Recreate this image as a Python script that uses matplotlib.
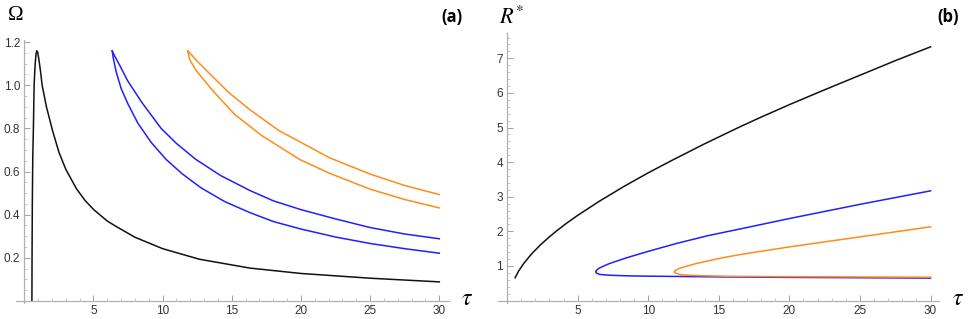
import numpy as np
import matplotlib.pyplot as plt
from matplotlib.ticker import MultipleLocator, FixedLocator

plt.rcParams["mathtext.fontset"] = "stix"

# ---- panel (a): Omega vs tau ----
tau_k = [0.55, 0.56, 0.58, 0.61, 0.66, 0.71, 0.76, 0.8, 0.85, 0.9, 0.96, 1.03, 1.12, 1.2, 1.29,
         1.6, 2.04, 2.5, 3.0, 3.77, 4.4, 5.02, 6.0, 6.64, 8.0, 10, 12.66, 16.3, 20, 25, 30]
om_k = [0.0, 0.2, 0.45, 0.656, 0.81, 1.0, 1.07, 1.11, 1.145, 1.16, 1.155, 1.13, 1.09, 1.05, 1.0,
        0.9, 0.79, 0.69, 0.61, 0.52, 0.465, 0.423, 0.37, 0.345, 0.295, 0.242, 0.193, 0.152,
        0.127, 0.105, 0.088]

tau_b_lo = [6.35, 6.45, 6.65, 7.0, 7.48, 8.2, 9.17, 10.25, 11.4, 12.78, 14.5, 16.28, 18, 20,
            22.5, 25, 27.5, 30]
om_b_lo = [1.16, 1.12, 1.06, 0.985, 0.915, 0.825, 0.735, 0.656, 0.59, 0.524, 0.46, 0.41, 0.368,
           0.333, 0.296, 0.266, 0.242, 0.221]
tau_b_up = [6.35, 6.5, 6.9, 7.48, 8.5, 9.89, 11, 12.4, 14.2, 16.3, 18, 20, 22.5, 25, 27.5, 30]
om_b_up = [1.16, 1.14, 1.092, 1.02, 0.92, 0.8, 0.73, 0.656, 0.581, 0.512, 0.464, 0.423, 0.38,
           0.34, 0.31, 0.288]

tau_o_up = [11.82, 12.1, 12.6, 13.3, 14.8, 16.3, 18.4, 20, 22.05, 25, 27.5, 30]
om_o_up = [1.16, 1.14, 1.105, 1.06, 0.965, 0.887, 0.79, 0.735, 0.664, 0.588, 0.535, 0.493]
tau_o_lo = [11.82, 11.95, 12.4, 13.62, 15.2, 17.2, 19.9, 22.05, 25, 27.5, 30]
om_o_lo = [1.16, 1.12, 1.07, 0.975, 0.865, 0.765, 0.656, 0.592, 0.518, 0.47, 0.431]

# ---- panel (b): R* vs tau ----
tau_rk = [0.57, 0.8, 1.16, 1.7, 2.34, 3.0, 3.5, 4.2, 5, 6.5, 8.25, 10, 11.68, 14, 16.5, 18, 20,
          22.5, 25, 27.5, 30]
r_k = [0.66, 0.84, 1.06, 1.33, 1.6, 1.84, 2.01, 2.23, 2.46, 2.86, 3.29, 3.69, 4.05, 4.53, 5.02,
       5.3, 5.66, 6.09, 6.51, 6.93, 7.33]

tau_rb_up = [6.29, 6.33, 6.5, 6.8, 7.2, 7.54, 8.5, 9.9, 12, 14.28, 16.52, 20, 25, 30]
r_b_up = [0.83, 0.87, 0.93, 0.99, 1.06, 1.11, 1.24, 1.41, 1.65, 1.88, 2.07, 2.37, 2.78, 3.17]
tau_rb_lo = [6.29, 6.35, 6.6, 7.0, 7.5, 8.5, 10, 15, 20, 25, 30]
r_b_lo = [0.83, 0.79, 0.755, 0.74, 0.728, 0.715, 0.705, 0.685, 0.67, 0.66, 0.65]

tau_ro_up = [11.87, 11.92, 12.2, 12.7, 13.4, 14.28, 15.3, 16.52, 20, 25, 30]
r_o_up = [0.83, 0.87, 0.93, 0.99, 1.07, 1.15, 1.24, 1.33, 1.55, 1.84, 2.13]
tau_ro_lo = [11.87, 11.95, 12.3, 13, 14, 16, 20, 25, 30]
r_o_lo = [0.83, 0.79, 0.75, 0.73, 0.715, 0.7, 0.69, 0.682, 0.675]

W, H = 969, 319
fig = plt.figure(figsize=(W / 100, H / 100), dpi=100)
ax1 = fig.add_axes([16 / W, 16 / H, 433 / W, 263 / H])
ax2 = fig.add_axes([498 / W, 16 / H, 441 / W, 270 / H])

blue = "#2020ff"
orange = "#ff8c1a"
lw = 1.1

ax1.plot(tau_k, om_k, color="#111111", lw=lw)
ax1.plot(tau_b_lo, om_b_lo, color=blue, lw=lw)
ax1.plot(tau_b_up, om_b_up, color=blue, lw=lw)
ax1.plot(tau_o_lo, om_o_lo, color=orange, lw=lw)
ax1.plot(tau_o_up, om_o_up, color=orange, lw=lw)
ax1.set_xlim(-0.6, 30.7)
ax1.set_ylim(-0.01, 1.21)
ax1.xaxis.set_major_locator(FixedLocator([5, 10, 15, 20, 25, 30]))
ax1.xaxis.set_minor_locator(MultipleLocator(1))
ax1.yaxis.set_major_locator(FixedLocator([0.2, 0.4, 0.6, 0.8, 1.0, 1.2]))
ax1.yaxis.set_minor_locator(MultipleLocator(0.05))

ax2.plot(tau_rk, r_k, color="#111111", lw=lw)
ax2.plot(tau_rb_lo, r_b_lo, color=blue, lw=lw)
ax2.plot(tau_rb_up, r_b_up, color=blue, lw=lw)
ax2.plot(tau_ro_lo, r_o_lo, color=orange, lw=lw)
ax2.plot(tau_ro_up, r_o_up, color=orange, lw=lw)
ax2.set_xlim(-0.64, 30.6)
ax2.set_ylim(-0.07, 7.73)
ax2.xaxis.set_major_locator(FixedLocator([5, 10, 15, 20, 25, 30]))
ax2.xaxis.set_minor_locator(MultipleLocator(1))
ax2.yaxis.set_major_locator(FixedLocator([1, 2, 3, 4, 5, 6, 7]))
ax2.yaxis.set_minor_locator(MultipleLocator(0.2))

for ax in (ax1, ax2):
    ax.patch.set_alpha(0)
    for s in ("top", "right"):
        ax.spines[s].set_visible(False)
    ax.spines["left"].set_position(("data", 0))
    ax.spines["bottom"].set_position(("data", 0))
    for s in ("left", "bottom"):
        ax.spines[s].set_color("#b0b0b0")
        ax.spines[s].set_linewidth(0.9)
    ax.tick_params(which="major", direction="in", length=4, width=0.7, color="#a0a0a0",
                   labelsize=8.5, labelcolor="#333333", pad=3)
    ax.tick_params(which="minor", direction="in", length=2, width=0.6, color="#c0c0c0")
    for lab in ax.get_xticklabels() + ax.get_yticklabels():
        lab.set_family("Liberation Sans")

def ftext(x, y, s, **kw):
    fig.text(x / W, 1 - y / H, s, ha="center", va="center", **kw)

ftext(16, 16, "Ω", family="Liberation Serif", size=15)
ftext(467, 298, r"$\tau$", size=17)
ftext(512, 17, r"$R^{*}$", size=16)
ftext(958, 298, r"$\tau$", size=17)
ftext(452, 17, "(a)", family="Open Sans", weight="bold", size=12)
ftext(948, 17, "(b)", family="Open Sans", weight="bold", size=12)

fig.savefig("out.png", dpi=100)
